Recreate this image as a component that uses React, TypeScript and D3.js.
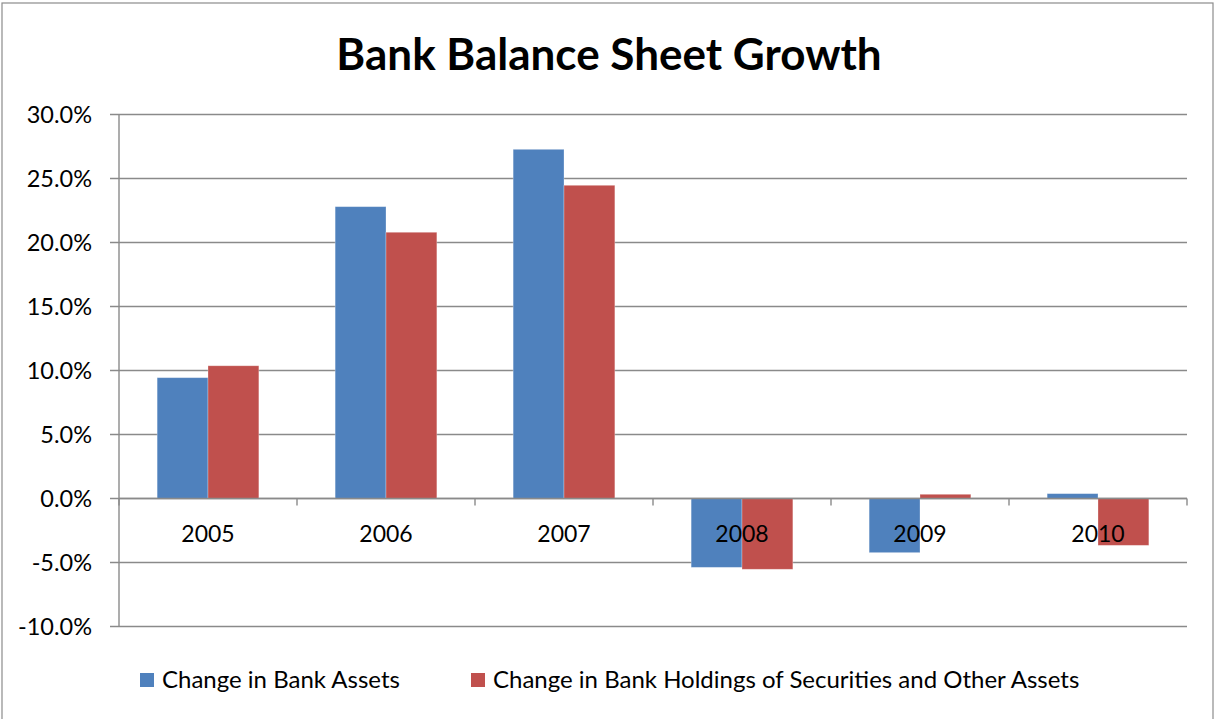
import React from "react";
import * as d3 from "d3";

const categories = ["2005", "2006", "2007", "2008", "2009", "2010"];
const bankAssets = [9.44, 22.8, 27.28, -5.38, -4.23, 0.38];
const securitiesAssets = [10.37, 20.8, 24.47, -5.53, 0.33, -3.66];
const seriesNames = [
  "Change in Bank Assets",
  "Change in Bank Holdings of Securities and Other Assets",
];
const yTicks = [-10, -5, 0, 5, 10, 15, 20, 25, 30];

const W = 1215;
const H = 719;
const FONT = "Lato, 'Open Sans', sans-serif";
const COLORS = ["#4F81BD", "#C0504D"];
const GRID = "#8a8a8a";

export default function App() {
  const left = 119;
  const right = 1187;
  const x0 = d3
    .scaleBand<string>()
    .domain(categories)
    .range([left, right])
    .paddingInner(0.6 / 1.4)
    .paddingOuter(0.3 / 1.4);
  const x1 = d3
    .scaleBand<number>()
    .domain([0, 1])
    .range([0, x0.bandwidth()]);
  const y = d3.scaleLinear().domain([-10, 30]).range([626.5, 114.5]);
  const series = [bankAssets, securitiesAssets];
  const step = (right - left) / categories.length;
  const fmt = (t: number) => t.toFixed(1) + "%";

  return (
    <svg
      width={W}
      height={H}
      style={{ position: "absolute", left: 0, top: 0, background: "#fff" }}
      fontFamily={FONT}
    >
      <rect x={0} y={0} width={W} height={H} fill="#fff" />
      <rect
        x={2}
        y={3}
        width={1211}
        height={730}
        fill="none"
        stroke="#8c8c8c"
        strokeWidth={1.2}
      />
      <text
        x={609}
        y={70}
        textAnchor="middle"
        fontSize={44}
        fontWeight={700}
        fill="#000"
      >
        Bank Balance Sheet Growth
      </text>

      {/* gridlines */}
      {yTicks.map((t) => (
        <g key={t}>
          <line
            x1={110}
            x2={right}
            y1={y(t)}
            y2={y(t)}
            stroke={GRID}
            strokeWidth={1.4}
          />
          <text
            x={92}
            y={y(t) + 8}
            textAnchor="end"
            fontSize={23.5}
            fill="#000"
          >
            {fmt(t)}
          </text>
        </g>
      ))}
      <line
        x1={left}
        x2={left}
        y1={y(30)}
        y2={y(-10)}
        stroke={GRID}
        strokeWidth={1.4}
      />

      {/* bars */}
      {categories.map((c, i) => (
        <g key={c} transform={`translate(${x0(c)},0)`}>
          {series.map((s, j) => {
            const v = s[i];
            const yTop = y(Math.max(0, v));
            const yBot = y(Math.min(0, v));
            return (
              <rect
                key={j}
                x={x1(j)}
                y={yTop}
                width={x1.bandwidth()}
                height={yBot - yTop}
                fill={COLORS[j]}
                stroke="rgba(255,255,255,0.35)"
                strokeWidth={0.8}
              />
            );
          })}
        </g>
      ))}

      {/* x axis line and ticks */}
      <line
        x1={left}
        x2={right}
        y1={y(0)}
        y2={y(0)}
        stroke={GRID}
        strokeWidth={1.4}
      />
      {d3.range(categories.length + 1).map((k) => (
        <line
          key={k}
          x1={left + k * step}
          x2={left + k * step}
          y1={y(0)}
          y2={y(0) + 7}
          stroke={GRID}
          strokeWidth={1.4}
        />
      ))}
      {categories.map((c) => (
        <text
          key={c}
          x={(x0(c) as number) + x0.bandwidth() / 2}
          y={541.5}
          textAnchor="middle"
          fontSize={23}
          fill="#000"
        >
          {c}
        </text>
      ))}

      {/* legend */}
      {seriesNames.map((n, j) => {
        const lx = j === 0 ? 140 : 471;
        return (
          <g key={n}>
            <rect x={lx} y={673} width={14} height={14} fill={COLORS[j]} />
            <text x={lx + 22} y={688} fontSize={24} fill="#000">
              {n}
            </text>
          </g>
        );
      })}
    </svg>
  );
}
